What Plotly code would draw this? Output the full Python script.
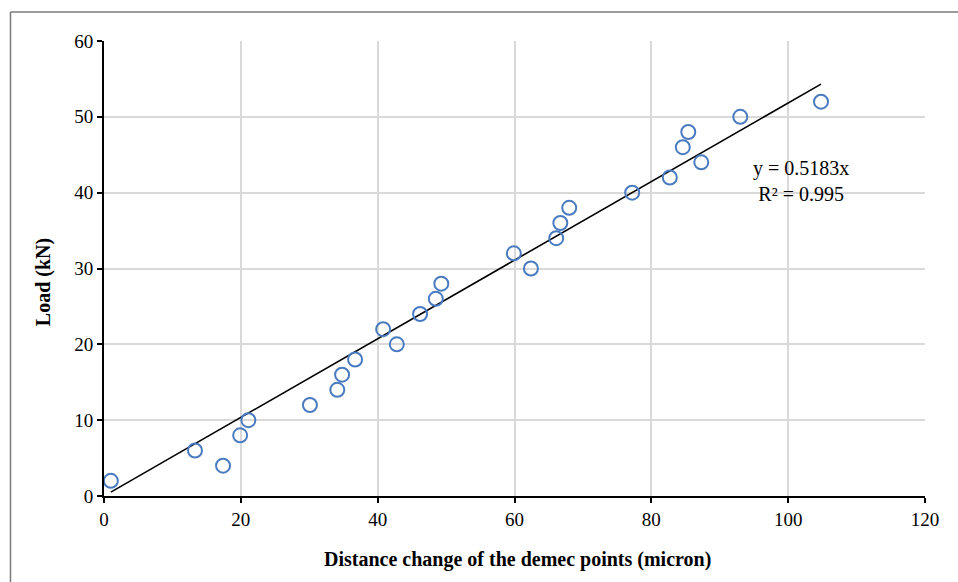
import plotly.graph_objects as go

x_vals = [1.0, 13.3, 17.4, 19.9, 21.1, 30.1, 34.1, 34.8, 36.7, 40.8, 42.8, 46.2, 48.5, 49.3,
          59.9, 62.4, 66.1, 66.7, 68.0, 77.2, 82.7, 87.3, 84.6, 85.4, 93.0, 104.8]
y_vals = [2, 6, 4, 8, 10, 12, 14, 16, 18, 22, 20, 24, 26, 28,
          32, 30, 34, 36, 38, 40, 42, 44, 46, 48, 50, 52]
slope = 0.5183
r2 = 0.995
x_ticks = [0, 20, 40, 60, 80, 100, 120]
y_ticks = [0, 10, 20, 30, 40, 50, 60]
x_title = "Distance change of the demec points (micron)"
y_title = "Load (kN)"

fx = [min(x_vals), max(x_vals)]
fy = [slope * v for v in fx]

font = "Liberation Serif"

fig = go.Figure()
fig.add_trace(go.Scatter(x=fx, y=fy, mode="lines",
                         line=dict(color="black", width=1.6), showlegend=False, hoverinfo="skip"))
fig.add_trace(go.Scatter(x=x_vals, y=y_vals, mode="markers",
                         marker=dict(symbol="circle-open", size=14, color="#4a7bc0",
                                     line=dict(width=2, color="#4a7bc0")),
                         showlegend=False))

fig.add_annotation(x=0.849, y=0.692, xref="paper", yref="paper", xanchor="center", yanchor="middle",
                   text=f"y = {slope}x<br>R² = {r2}", showarrow=False,
                   font=dict(family=font, size=20, color="black"), align="center")
fig.add_annotation(x=0.5035, y=-0.14, xref="paper", yref="paper", xanchor="center", yanchor="middle",
                   text=f"<b>{x_title}</b>", showarrow=False,
                   font=dict(family=font, size=20, color="black"))
fig.add_annotation(x=-0.0743, y=0.47, xref="paper", yref="paper", xanchor="center", yanchor="middle",
                   text=f"<b>{y_title}</b>", showarrow=False, textangle=-90,
                   font=dict(family=font, size=20, color="black"))

axis_common = dict(showgrid=True, gridcolor="#d9d9d9", gridwidth=1.5,
                   showline=True, linecolor="black", linewidth=1.8, ticks="outside", ticklen=5,
                   tickwidth=1.5, tickcolor="black", zeroline=False,
                   tickfont=dict(family=font, size=19, color="black"))

fig.update_layout(
    width=958, height=582,
    margin=dict(l=104, r=33, t=41, b=86),
    paper_bgcolor="white", plot_bgcolor="white",
    font=dict(family=font, size=19, color="black"),
    xaxis=dict(range=[0, 120], tickvals=x_ticks, **axis_common),
    yaxis=dict(range=[0, 60], tickvals=y_ticks, **axis_common),
    shapes=[
        dict(type="line", xref="paper", yref="paper", x0=-0.1139, x1=1.05, y0=1.0637, y1=1.0637,
             line=dict(color="#7a7a7a", width=1.5)),
        dict(type="line", xref="paper", yref="paper", x0=-0.1139, x1=-0.1139, y0=1.0637, y1=-0.2,
             line=dict(color="#7a7a7a", width=1.5)),
    ],
)

fig.write_html("out.html")
